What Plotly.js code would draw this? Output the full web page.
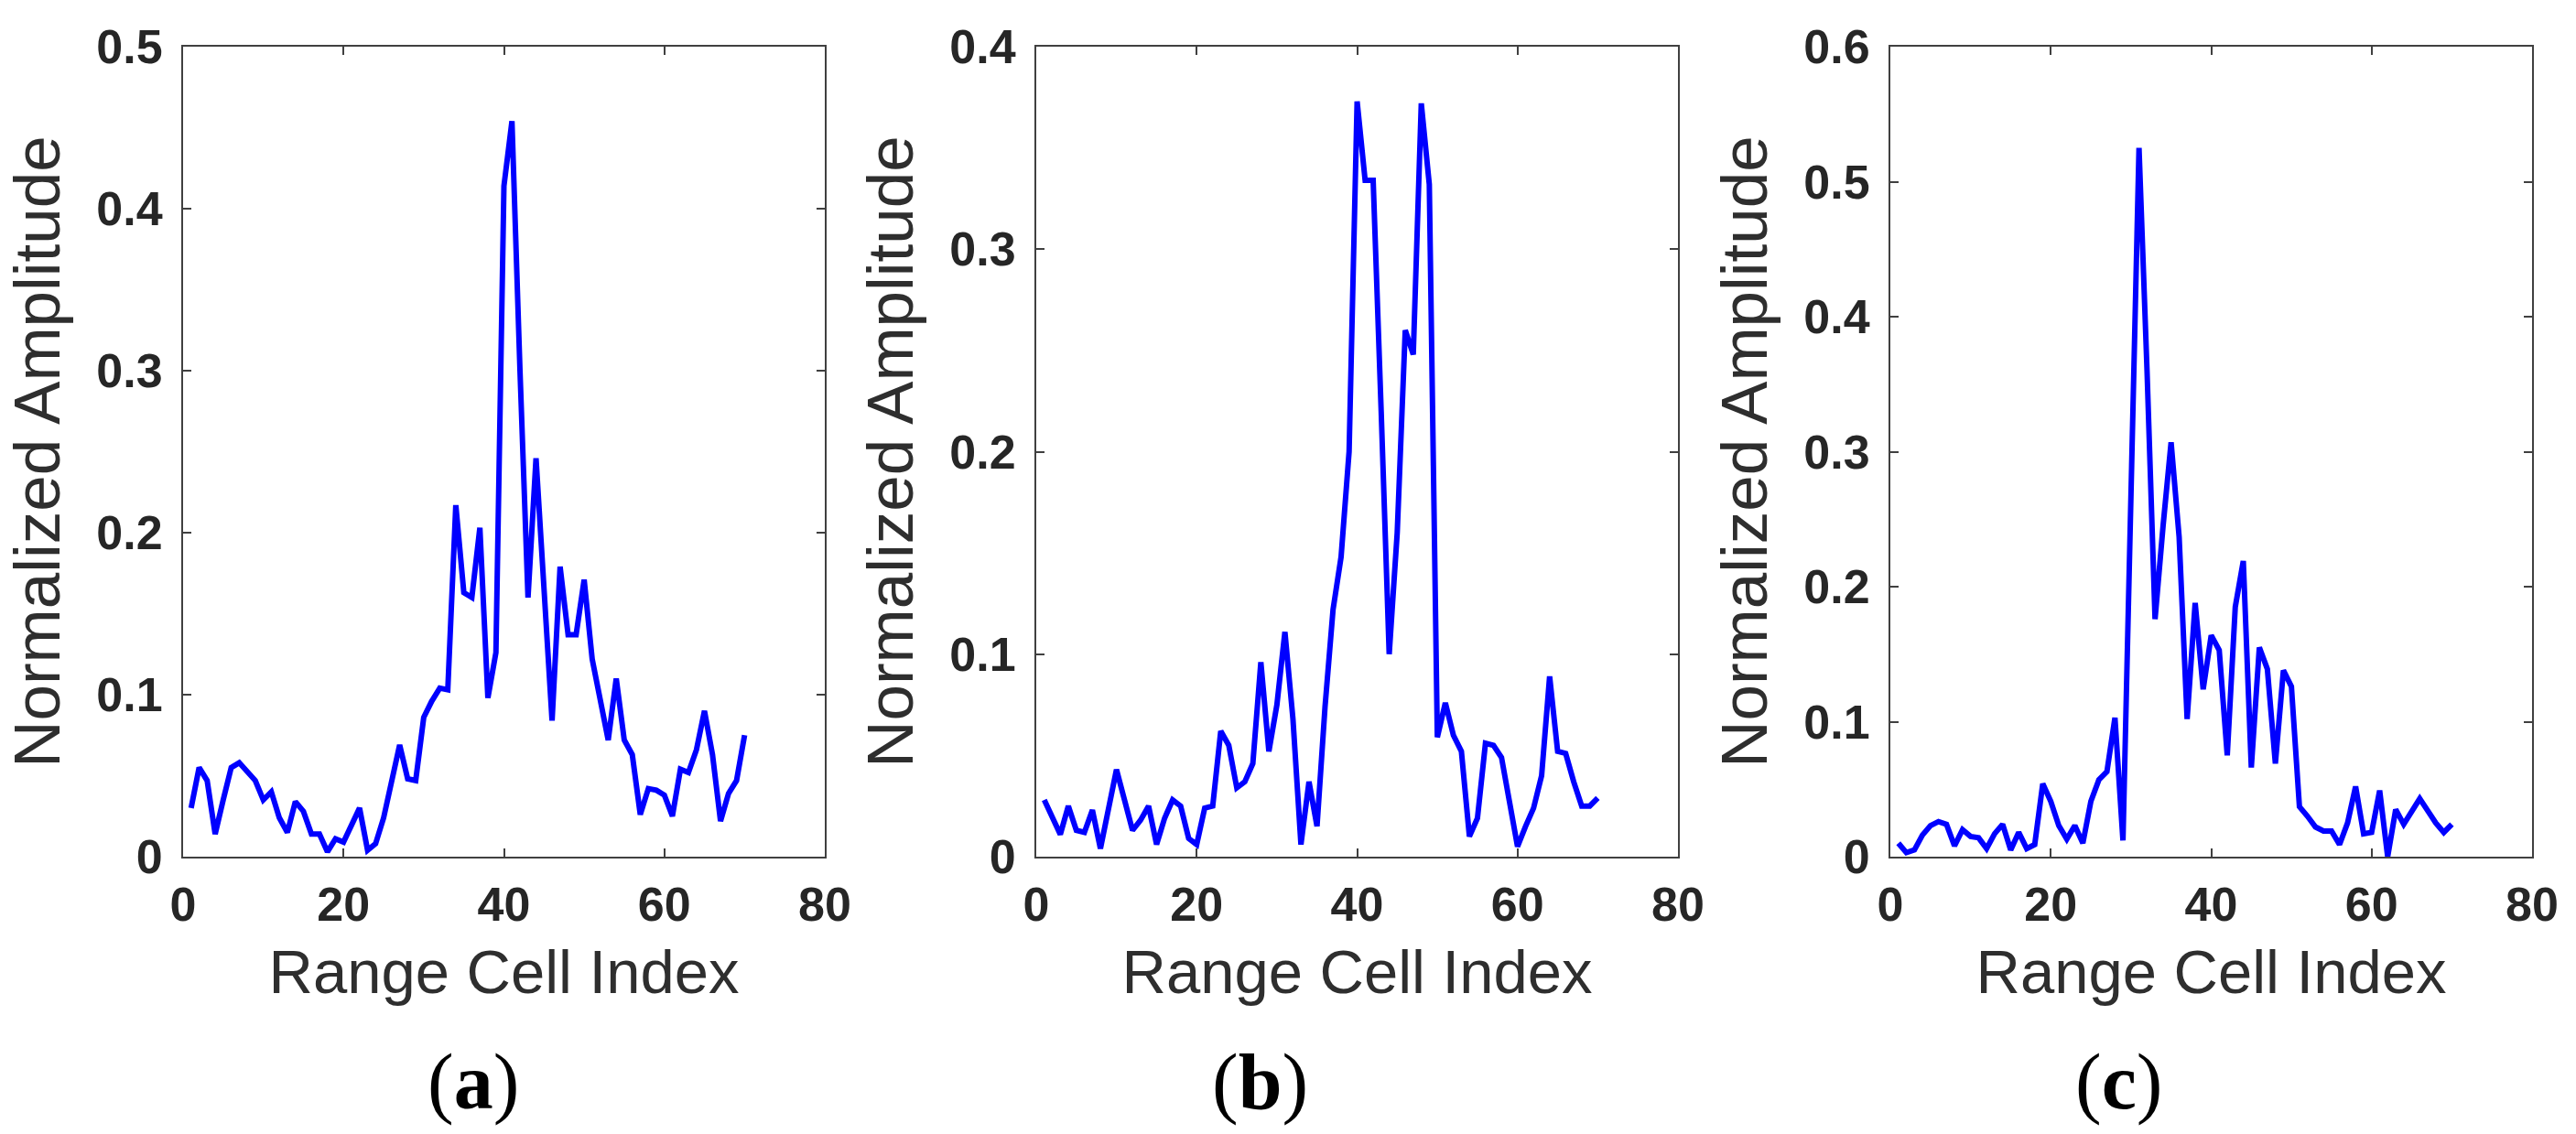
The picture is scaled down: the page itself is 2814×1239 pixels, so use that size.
<!DOCTYPE html>
<html>
<head>
<meta charset="utf-8">
<script src="https://cdn.plot.ly/plotly-3.0.1.min.js"></script>
<style>
  html, body { margin: 0; padding: 0; background: #fff; }
  #graph { width: 2814px; height: 1239px; }
</style>
</head>
<body>
<div id="graph"></div>
<script>
// range cell index (x) shared by the three panels
const cellIndex = [1, 2, 3, 4, 5, 6, 7, 8, 9, 10,
  11, 12, 13, 14, 15, 16, 17, 18, 19, 20,
  21, 22, 23, 24, 25, 26, 27, 28, 29, 30,
  31, 32, 33, 34, 35, 36, 37, 38, 39, 40,
  41, 42, 43, 44, 45, 46, 47, 48, 49, 50,
  51, 52, 53, 54, 55, 56, 57, 58, 59, 60,
  61, 62, 63, 64, 65, 66, 67, 68, 69, 70];

// normalized amplitude, panel (a)
const ampA = [0.030, 0.055, 0.047, 0.014, 0.035, 0.055, 0.058, 0.053, 0.047, 0.035,
  0.040, 0.024, 0.015, 0.034, 0.028, 0.014, 0.014, 0.003, 0.011, 0.009,
  0.019, 0.030, 0.004, 0.008, 0.024, 0.047, 0.069, 0.048, 0.047, 0.086,
  0.096, 0.104, 0.103, 0.217, 0.163, 0.160, 0.203, 0.098, 0.126, 0.414,
  0.454, 0.300, 0.160, 0.246, 0.165, 0.084, 0.179, 0.137, 0.137, 0.171,
  0.122, 0.096, 0.072, 0.110, 0.072, 0.063, 0.026, 0.042, 0.041, 0.038,
  0.025, 0.054, 0.052, 0.066, 0.090, 0.063, 0.022, 0.039, 0.047, 0.075];

// panel (b)
const ampB = [0.028, 0.019, 0.011, 0.025, 0.013, 0.012, 0.023, 0.004, 0.022, 0.043,
  0.028, 0.013, 0.018, 0.025, 0.006, 0.019, 0.028, 0.025, 0.009, 0.006,
  0.024, 0.025, 0.062, 0.055, 0.034, 0.037, 0.046, 0.096, 0.052, 0.075,
  0.111, 0.068, 0.006, 0.037, 0.015, 0.074, 0.122, 0.148, 0.200, 0.373,
  0.334, 0.334, 0.220, 0.100, 0.160, 0.260, 0.248, 0.372, 0.332, 0.059,
  0.076, 0.060, 0.052, 0.010, 0.019, 0.056, 0.055, 0.049, 0.027, 0.005,
  0.015, 0.024, 0.040, 0.089, 0.052, 0.051, 0.037, 0.025, 0.025, 0.029];

// panel (c)
const ampC = [0.010, 0.003, 0.005, 0.016, 0.023, 0.026, 0.024, 0.008, 0.020, 0.015,
  0.014, 0.006, 0.017, 0.024, 0.005, 0.018, 0.006, 0.009, 0.054, 0.041,
  0.023, 0.013, 0.023, 0.010, 0.041, 0.057, 0.063, 0.103, 0.012, 0.270,
  0.525, 0.360, 0.176, 0.245, 0.307, 0.237, 0.102, 0.188, 0.124, 0.164,
  0.153, 0.075, 0.185, 0.219, 0.066, 0.155, 0.139, 0.069, 0.138, 0.126,
  0.037, 0.030, 0.022, 0.019, 0.019, 0.009, 0.025, 0.052, 0.017, 0.018,
  0.049, 0.000, 0.035, 0.024, 0.034, 0.043, 0.034, 0.025, 0.018, 0.024];

const yMax = [0.5, 0.4, 0.6];
const panelLabels = ['a', 'b', 'c'];

const xTitle = 'Range Cell Index';
const yTitle = 'Normalized Amplitude';

plot();

function axisBase() {
  return {
    ticks: 'inside',
    ticklen: 9,
    tickwidth: 2,
    tickcolor: '#404040',
    showline: true,
    linecolor: '#404040',
    linewidth: 2,
    mirror: 'ticks',
    showgrid: false,
    zeroline: false,
    tickfont: { family: 'Liberation Sans, Arial, sans-serif', size: 52, color: '#262626', weight: 'bold' },
  };
}

function plot() {
  const W = 2814, H = 1239;
  const left = [200, 1132, 2065];
  const plotW = 701;
  const yDom = [1 - 936 / H, 1 - 51 / H];
  const labelX = [517, 1376, 2314];
  const series = [ampA, ampB, ampC];

  const traces = [];
  const layout = {
    width: W,
    height: H,
    margin: { l: 0, r: 0, t: 0, b: 0, pad: 0 },
    paper_bgcolor: '#fff',
    plot_bgcolor: '#fff',
    showlegend: false,
    annotations: [],
  };

  for (let i = 0; i < 3; i++) {
    const sfx = i === 0 ? '' : String(i + 1);
    traces.push({
      x: cellIndex,
      y: series[i],
      xaxis: 'x' + sfx,
      yaxis: 'y' + sfx,
      mode: 'lines',
      line: { color: '#0000ff', width: 6 },
    });

    layout['xaxis' + sfx] = Object.assign(axisBase(), {
      domain: [left[i] / W, (left[i] + plotW) / W],
      range: [0, 80],
      tick0: 0,
      dtick: 20,
      anchor: 'y' + sfx,
      ticklabelstandoff: 6,
      title: {
        text: xTitle,
        standoff: 22,
        font: { family: 'Liberation Sans, Arial, sans-serif', size: 67, color: '#2e2e2e' },
      },
    });

    layout['yaxis' + sfx] = Object.assign(axisBase(), {
      domain: yDom,
      range: [0, yMax[i]],
      tick0: 0,
      dtick: 0.1,
      anchor: 'x' + sfx,
      ticklabelstandoff: 10,
      title: {
        text: yTitle,
        standoff: 16,
        font: { family: 'Liberation Sans, Arial, sans-serif', size: 71, color: '#2e2e2e' },
      },
    });

    layout.annotations.push({
      xref: 'paper',
      yref: 'paper',
      x: labelX[i] / W,
      y: 1 - 1182 / H,
      xanchor: 'center',
      yanchor: 'middle',
      showarrow: false,
      text: '(<b>' + panelLabels[i] + '</b>)',
      font: { family: 'Liberation Serif, Times New Roman, serif', size: 86, color: '#000' },
    });
  }

  Plotly.newPlot('graph', traces, layout, { displayModeBar: false, staticPlot: true });
}
</script>
</body>
</html>
